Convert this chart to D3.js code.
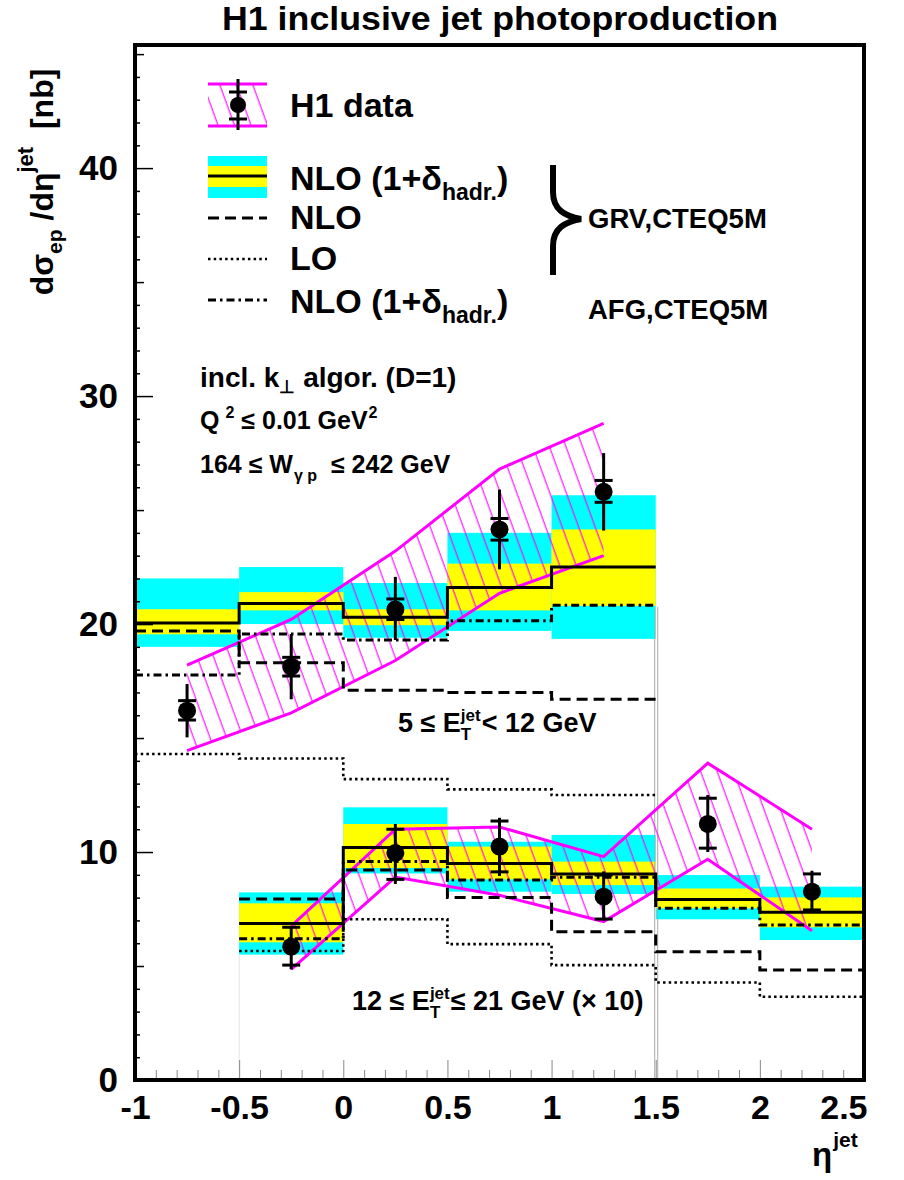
<!DOCTYPE html>
<html>
<head>
<meta charset="utf-8">
<script src="https://cdn.jsdelivr.net/npm/d3@7"></script>
<style>
  body { margin: 0; background: #fff; }
  text { font-family: "Liberation Sans", Arial, Helvetica, sans-serif; font-weight: bold; fill: #000; white-space: pre; }
</style>
</head>
<body>
<svg id="chart" width="904" height="1180"></svg>
<script>
// ---- bins ----
const edgesHigh = [-1, -0.5, 0, 0.5, 1, 1.5];          // 5 <= Et < 12 GeV
const edgesLow  = [-0.5, 0, 0.5, 1, 1.5, 2, 2.5];      // 12 <= Et <= 21 GeV (x10)

// ---- theory, 5 <= Et < 12 ----
const nloHadHigh   = [20.05, 20.9, 20.3, 21.6, 22.5];
const yellowLoHigh = [19.55, 20.6, 19.95, 20.6, 20.8];
const yellowHiHigh = [20.65, 21.4, 20.65, 22.65, 24.15];
const cyanLoHigh   = [19.0, 20.0, 19.4, 19.7, 19.35];
const cyanHiHigh   = [22.0, 22.5, 21.8, 24.0, 25.65];
const nloHigh      = [19.7, 18.3, 17.1, 17.0, 16.7];
const loHigh       = [14.3, 14.1, 13.2, 12.75, 12.5];
const afgHigh      = [17.76, 19.56, 19.3, 20.15, 20.83];

// ---- theory, 12 <= Et <= 21 (x10) ----
const nloHadLow   = [6.87, 10.2, 9.5, 9.04, 7.92, 7.36];
const yellowLoLow = [6.04, 9.3, 8.8, 8.55, 7.53, 6.7];
const yellowHiLow = [7.75, 11.23, 10.24, 9.58, 8.4, 8.01];
const cyanLoLow   = [5.5, 9.06, 8.26, 8.16, 7.05, 6.14];
const cyanHiLow   = [8.23, 11.96, 10.45, 10.75, 8.99, 8.48];
const nloLow      = [7.94, 9.21, 8.0, 6.5, 5.63, 4.82];
const loLow       = [5.66, 7.05, 5.96, 5.04, 4.28, 3.65];
const afgLow      = [6.2, 9.58, 8.77, 8.89, 7.53, 6.8];

// ---- H1 data, 5 <= Et < 12 ----
const etaHigh     = [-0.75, -0.25, 0.25, 0.75, 1.25];
const valHigh     = [16.2, 18.13, 20.64, 24.15, 25.8];
const statUpHigh  = [16.64, 18.54, 21.1, 24.63, 26.3];
const statDnHigh  = [15.79, 17.72, 20.2, 23.68, 25.34];
const totUpHigh   = [17.37, 19.56, 22.07, 25.9, 27.5];
const totDnHigh   = [15.03, 16.7, 19.3, 22.4, 24.1];
const bandUpHigh  = [18.2, 20.2, 23.2, 26.8, 28.8];
const bandDnHigh  = [14.45, 16.1, 18.4, 21.35, 23.0];

// ---- H1 data, 12 <= Et <= 21 (x10) ----
const etaLow     = [-0.25, 0.25, 0.75, 1.25, 1.75, 2.25];
const valLow     = [5.85, 9.96, 10.24, 8.04, 11.23, 8.26];
const statUpLow  = [6.7, 11.0, 11.36, 8.99, 12.36, 9.04];
const statDnLow  = [5.04, 8.8, 9.13, 7.06, 10.17, 7.46];
const totUpLow   = [6.75, 11.23, 11.5, 9.15, 12.5, 9.18];
const totDnLow   = [4.85, 8.6, 8.95, 7.0, 10.0, 7.38];
const bandUpLow  = [6.75, 11.0, 11.1, 9.8, 13.9, 11.0];
const bandDnLow  = [4.85, 8.9, 8.1, 6.95, 9.68, 6.55];

// ---- axes ----
const xMajor = [-1, -0.5, 0, 0.5, 1, 1.5, 2, 2.5];
const xLabels = ["-1", "-0.5", "0", "0.5", "1", "1.5", "2", "2.5"];
const yMajor = [0, 10, 20, 30, 40];
const yLabels = ["0", "10", "20", "30", "40"];

const svg = d3.select("#chart");
const x = d3.scaleLinear().domain([-1, 2.5]).range([135, 864]);
const y = d3.scaleLinear().domain([0, 45.4]).range([1080, 45]);

const MAGENTA = "#ff00ff", CYAN = "#00ffff", YELLOW = "#ffff00";

// hatch pattern for the data systematic band
const defs = svg.append("defs");
const pat = defs.append("pattern").attr("id", "hatch")
  .attr("patternUnits", "userSpaceOnUse").attr("width", 15.5).attr("height", 40)
  .attr("patternTransform", "rotate(-20)");
pat.append("line").attr("x1", 7).attr("y1", 0).attr("x2", 7).attr("y2", 40)
  .attr("stroke", MAGENTA).attr("stroke-width", 1.1);

const plot = svg.append("g");

// uncertainty boxes
function boxes(edges, lo, hi, color) {
  plot.append("g").selectAll("rect").data(lo).join("rect")
    .attr("x", (d, i) => x(edges[i]))
    .attr("width", (d, i) => x(edges[i + 1]) - x(edges[i]))
    .attr("y", (d, i) => y(hi[i]))
    .attr("height", (d, i) => y(lo[i]) - y(hi[i]))
    .attr("fill", color);
}
boxes(edgesHigh, cyanLoHigh, cyanHiHigh, CYAN);
boxes(edgesLow, cyanLoLow, cyanHiLow, CYAN);
boxes(edgesHigh, yellowLoHigh, yellowHiHigh, YELLOW);
boxes(edgesLow, yellowLoLow, yellowHiLow, YELLOW);

// faint outline edges where histograms close to zero
[-1, 2].forEach(off => plot.append("line").attr("x1", x(1.5) + off).attr("x2", x(1.5) + off)
  .attr("y1", y(afgHigh[4]) + 2).attr("y2", y(0)).attr("stroke", "#aaa").attr("stroke-width", 1));
plot.append("line").attr("x1", x(-0.5)).attr("x2", x(-0.5))
  .attr("y1", y(cyanLoLow[0])).attr("y2", y(0)).attr("stroke", "#e4e4e4").attr("stroke-width", 1);

// hatched data bands
function band(eta, up, dn) {
  const area = d3.area().x((d, i) => x(eta[i])).y0((d, i) => y(dn[i])).y1((d, i) => y(up[i]));
  plot.append("path").datum(eta).attr("d", area).attr("fill", "url(#hatch)");
  const ln = vals => d3.line().x((d, i) => x(eta[i])).y((d, i) => y(vals[i]));
  [up, dn].forEach(v => plot.append("path").datum(eta).attr("d", ln(v)).attr("fill", "none")
    .attr("stroke", MAGENTA).attr("stroke-width", 3));
}
band(etaHigh, bandUpHigh, bandDnHigh);
band(etaLow, bandUpLow, bandDnLow);

// step histograms
const styles = {
  solid:   { dash: null,        w: 3 },
  dashed:  { dash: "11,6",      w: 3 },
  dotted:  { dash: "2.5,3.2",   w: 2.6 },
  dashdot: { dash: "8,4,2.5,4", w: 3 }
};
function hist(edges, vals, st) {
  const pts = edges.map((e, i) => [e, vals[Math.min(i, vals.length - 1)]]);
  const line = d3.line().x(d => x(d[0])).y(d => y(d[1])).curve(d3.curveStepAfter);
  plot.append("path").datum(pts).attr("d", line).attr("fill", "none")
    .attr("stroke", "#000").attr("stroke-width", styles[st].w)
    .attr("stroke-dasharray", styles[st].dash);
}
hist(edgesHigh, loHigh, "dotted");
hist(edgesLow, loLow, "dotted");
hist(edgesHigh, nloHigh, "dashed");
hist(edgesLow, nloLow, "dashed");
hist(edgesHigh, afgHigh, "dashdot");
hist(edgesLow, afgLow, "dashdot");
hist(edgesHigh, nloHadHigh, "solid");
hist(edgesLow, nloHadLow, "solid");

// data points with stat (caps) and total error bars
function points(eta, val, sUp, sDn, tUp, tDn) {
  const g = plot.append("g");
  eta.forEach((e, i) => {
    const cx = x(e);
    g.append("line").attr("x1", cx).attr("x2", cx).attr("y1", y(tUp[i])).attr("y2", y(tDn[i]))
      .attr("stroke", "#000").attr("stroke-width", 3);
    [sUp[i], sDn[i]].forEach(v => g.append("line").attr("x1", cx - 9).attr("x2", cx + 9)
      .attr("y1", y(v)).attr("y2", y(v)).attr("stroke", "#000").attr("stroke-width", 3));
    g.append("circle").attr("cx", cx).attr("cy", y(val[i])).attr("r", 9).attr("fill", "#000");
  });
}
points(etaHigh, valHigh, statUpHigh, statDnHigh, totUpHigh, totDnHigh);
points(etaLow, valLow, statUpLow, statDnLow, totUpLow, totDnLow);

// ---- axes ----
const yTicks1 = d3.range(0, 46, 1).filter(v => v % 5 !== 0);
const yTicks5 = d3.range(5, 46, 10);
const xMinor = d3.range(-10, 26, 1).map(v => v / 10).filter(v => Math.abs(v * 2 - Math.round(v * 2)) > 1e-6);

function yAxis(vals, size, labels) {
  const a = svg.append("g").attr("transform", `translate(${x(-1)},0)`)
    .call(d3.axisLeft(y).tickValues(vals).tickFormat(labels ? (d, i) => labels[i] : "")
      .tickSizeInner(-size).tickSizeOuter(0).tickPadding(17));
  a.select(".domain").remove();
  a.selectAll("line").attr("stroke", "#000").attr("stroke-width", 1.5);
  a.selectAll("text").attr("font-size", 35).attr("font-family", null);
}
yAxis(yMajor, 18, yLabels);
yAxis(yTicks5, 9);
yAxis(yTicks1, 5);

function xAxis(vals, size, labels) {
  const a = svg.append("g").attr("transform", `translate(0,${y(0)})`)
    .call(d3.axisBottom(x).tickValues(vals).tickFormat(labels ? (d, i) => labels[i] : "")
      .tickSizeInner(-size).tickSizeOuter(0).tickPadding(15));
  a.select(".domain").remove();
  a.selectAll("line").attr("stroke", "#888").attr("stroke-width", 1);
  a.selectAll("text").attr("font-size", 34).attr("font-family", null);
  // the last label is kept inside the frame's right edge
  a.selectAll("text").filter(d => d === 2.5).attr("text-anchor", "end").attr("x", 3);
}
xAxis(xMajor, 20, xLabels);
xAxis(xMinor, 10);

// frame
svg.append("rect").attr("x", x(-1)).attr("y", y(45.4)).attr("width", x(2.5) - x(-1)).attr("height", y(0) - y(45.4))
  .attr("fill", "none").attr("stroke", "#000").attr("stroke-width", 4);

// ---- text helpers ----
function txt(px, py, s, size, anchor) {
  return svg.append("text").attr("x", px).attr("y", py).attr("font-size", size)
    .attr("text-anchor", anchor || "start").text(s);
}
// runs of text placed one after the other; items may stack a super- and subscript
function rich(px, py, items) {
  let cx = px;
  items.forEach(it => {
    if (it.stack) {
      const ws = it.stack.map(s => txt(cx, py + s.shift, s.text, s.size).node().getComputedTextLength());
      cx += Math.max(...ws) + (it.pad || 0);
    } else {
      const t = txt(cx + (it.gap || 0), py + (it.shift || 0), it.text, it.size);
      cx += (it.gap || 0) + t.node().getComputedTextLength();
    }
  });
}

// title
txt(500, 30, "H1 inclusive jet photoproduction", 33, "middle").attr("textLength", 556).attr("lengthAdjust", "spacingAndGlyphs");

// axis titles
const yt = svg.append("text").attr("transform", "translate(53,182) rotate(-90)")
  .attr("text-anchor", "middle").attr("font-size", 32);
yt.append("tspan").text("dσ");
yt.append("tspan").attr("font-size", 21).attr("dy", 9).text("ep");
yt.append("tspan").attr("dy", -9).text(" /dη");
yt.append("tspan").attr("font-size", 22).attr("dy", -20).text("jet");
yt.append("tspan").attr("dy", 20).text("  [nb]");

rich(812, 1166, [{ text: "η", size: 33 }, { text: "jet", size: 21, shift: -19, gap: 1 }]);

// legend
const lg = svg.append("g");
lg.append("rect").attr("x", 208).attr("y", 84).attr("width", 59).attr("height", 42).attr("fill", "url(#hatch)");
[84, 126].forEach(v => lg.append("line").attr("x1", 208).attr("x2", 267).attr("y1", v).attr("y2", v)
  .attr("stroke", MAGENTA).attr("stroke-width", 3));
lg.append("line").attr("x1", 238).attr("x2", 238).attr("y1", 79).attr("y2", 130).attr("stroke", "#000").attr("stroke-width", 3);
[92, 119].forEach(v => lg.append("line").attr("x1", 229).attr("x2", 247).attr("y1", v).attr("y2", v)
  .attr("stroke", "#000").attr("stroke-width", 3));
lg.append("circle").attr("cx", 238).attr("cy", 105).attr("r", 8).attr("fill", "#000");

lg.append("rect").attr("x", 208).attr("y", 156).attr("width", 59).attr("height", 42).attr("fill", CYAN);
lg.append("rect").attr("x", 208).attr("y", 166).attr("width", 59).attr("height", 21).attr("fill", YELLOW);
lg.append("line").attr("x1", 208).attr("x2", 267).attr("y1", 176).attr("y2", 176).attr("stroke", "#000").attr("stroke-width", 3);
[[218, "dashed"], [259, "dotted"], [300, "dashdot"]].forEach(([v, st]) =>
  lg.append("line").attr("x1", 208).attr("x2", 267).attr("y1", v).attr("y2", v).attr("stroke", "#000")
    .attr("stroke-width", styles[st].w).attr("stroke-dasharray", styles[st].dash));

txt(290, 117, "H1 data", 34);
rich(290, 190, [{ text: "NLO (1+δ", size: 34 }, { text: "hadr.", size: 23, shift: 10 }, { text: ")", size: 34 }]);
txt(290, 229, "NLO", 34);
txt(290, 270, "LO", 34);
rich(290, 313, [{ text: "NLO (1+δ", size: 34 }, { text: "hadr.", size: 23, shift: 10 }, { text: ")", size: 34 }]);

// brace grouping the GRV curves
svg.append("path")
  .attr("d", "M553,165 L553,192 C553,210 565,216 581,219 C565,222 553,228 553,246 L553,275")
  .attr("fill", "none").attr("stroke", "#000").attr("stroke-width", 6);
txt(588, 228, "GRV,CTEQ5M", 27.5);
txt(588, 319, "AFG,CTEQ5M", 27.5);

// selection cuts
rich(200, 387, [{ text: "incl. k", size: 28 }, { text: "⊥", size: 18, shift: 6 }, { text: " algor. (D=1)", size: 28 }]);
rich(200, 429, [{ text: "Q", size: 25 }, { text: "2", size: 16, shift: -11, gap: 6 }, { text: " ≤ 0.01 GeV", size: 25 }, { text: "2", size: 16, shift: -11, gap: 1 }]);
rich(200, 473, [{ text: "164 ≤ W", size: 25 }, { text: "γ p", size: 16, shift: 8, gap: 1 }, { text: "  ≤ 242 GeV", size: 25 }]);

// sample labels
rich(398, 732, [{ text: "5 ≤ E", size: 27 },
  { stack: [{ text: "jet", size: 17, shift: -11 }, { text: "T", size: 17, shift: 8 }], pad: 1 },
  { text: "< 12 GeV", size: 27 }]);
rich(352, 1010, [{ text: "12 ≤ E", size: 27 },
  { stack: [{ text: "jet", size: 17, shift: -11 }, { text: "T", size: 17, shift: 8 }], pad: 1 },
  { text: "≤ 21 GeV (× 10)", size: 27 }]);
</script>
</body>
</html>
